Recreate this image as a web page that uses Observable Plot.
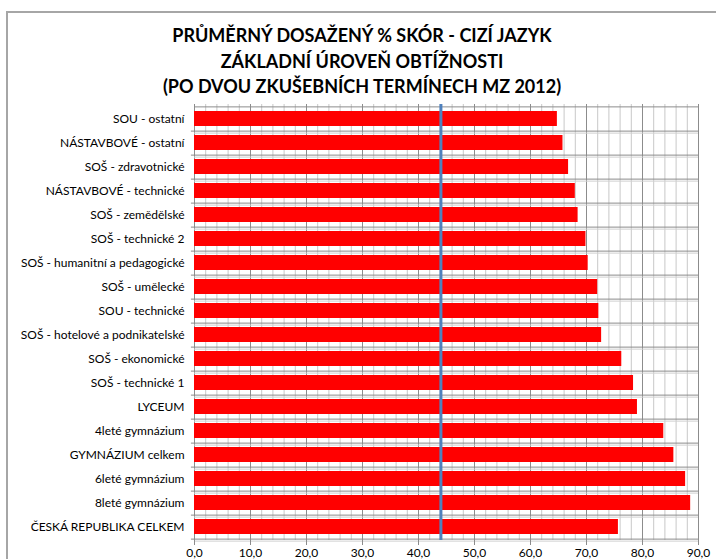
<!DOCTYPE html>
<html>
<head>
<meta charset="utf-8">
<script src="https://cdn.jsdelivr.net/npm/d3@7"></script>
<script src="https://cdn.jsdelivr.net/npm/@observablehq/plot@0.6"></script>
<style>
  html, body { margin: 0; padding: 0; background: #fff; width: 716px; height: 559px; overflow: hidden; }
  #frame { position: absolute; left: 6px; top: 11px; width: 760px; height: 600px;
           border-left: 2px solid #a6a6a6; border-top: 2px solid #a6a6a6; }
  #title { position: absolute; left: 6px; top: 23px; width: 712px; text-align: center;
           font-family: Lato, "Open Sans", sans-serif; font-weight: bold; font-size: 18px;
           line-height: 25.5px; color: #000; }
  #chart { position: absolute; left: 0; top: 95px; }
</style>
</head>
<body>
<div id="frame"></div>
<div id="title">PRŮMĚRNÝ DOSAŽENÝ % SKÓR - CIZÍ JAZYK<br>ZÁKLADNÍ ÚROVEŇ OBTÍŽNOSTI<br>(PO DVOU ZKUŠEBNÍCH TERMÍNECH MZ 2012)</div>
<div id="chart"></div>
<script>
const categories = [
  "SOU - ostatní",
  "NÁSTAVBOVÉ - ostatní",
  "SOŠ - zdravotnické",
  "NÁSTAVBOVÉ - technické",
  "SOŠ - zemědělské",
  "SOŠ - technické 2",
  "SOŠ - humanitní a pedagogické",
  "SOŠ - umělecké",
  "SOU - technické",
  "SOŠ - hotelové a podnikatelské",
  "SOŠ - ekonomické",
  "SOŠ - technické 1",
  "LYCEUM",
  "4leté gymnázium",
  "GYMNÁZIUM celkem",
  "6leté gymnázium",
  "8leté gymnázium",
  "ČESKÁ REPUBLIKA CELKEM"
];
const values = [64.8, 65.8, 66.8, 68.0, 68.5, 69.9, 70.3, 72.0, 72.2, 72.7, 76.3, 78.4, 79.1, 83.8, 85.6, 87.7, 88.6, 75.7];
const threshold = 44;
const xTicks = [0, 10, 20, 30, 40, 50, 60, 70, 80, 90];
const minorGrid = d3.range(0, 91, 2).filter(d => d % 10 !== 0);

const data = categories.map((c, i) => ({category: c, value: values[i]}));

const W = 716, H = 464, mTop = 9, mBottom = 19, mLeft = 194, mRight = 18;
const step = (H - mTop - mBottom) / categories.length;
const fmt = d => d.toFixed(1).replace(".", ",");

const chart = Plot.plot({
  width: W,
  height: H,
  marginTop: mTop,
  marginBottom: mBottom,
  marginLeft: mLeft,
  marginRight: mRight,
  style: {fontFamily: "Lato, 'Open Sans', sans-serif", fontSize: "12px", color: "#000", background: "transparent"},
  x: {domain: [0, 90], ticks: xTicks, tickFormat: fmt, label: null},
  y: {domain: categories, paddingInner: 0.38, paddingOuter: 0.19, label: null},
  marks: [
    Plot.ruleX(minorGrid, {stroke: "#c8c8c8", strokeWidth: 1}),
    Plot.ruleX(xTicks, {stroke: "#8c8c8c", strokeWidth: 1}),
    Plot.ruleY(categories, {y: d => d, dy: step / 2 + 2, stroke: "#d0d0d0", strokeWidth: 1}),
    Plot.ruleY(categories, {y: d => d, dy: step / 2, stroke: "#8c8c8c", strokeWidth: 1}),
    Plot.ruleY(categories, {y: d => d, dy: step / 2, x1: -0.55, x2: 0, stroke: "#8c8c8c", strokeWidth: 1, clip: false}),
    Plot.ruleY(categories.slice(0, 1), {y: d => d, dy: -step / 2, stroke: "#8c8c8c", strokeWidth: 1}),
    Plot.barX(data, {y: "category", x: "value", fill: "#ff0000"}),
    Plot.ruleX([threshold], {stroke: "#4f81bd", strokeWidth: 3}),
    Plot.axisX({ticks: xTicks, tickFormat: fmt, tickSize: 5, tickPadding: 3, stroke: "#8c8c8c", fill: "#000", fontSize: 12}),
    Plot.axisY({tickSize: 0, tickPadding: 10, fill: "#000", fontSize: 12})
  ]
});
document.getElementById("chart").appendChild(chart);
</script>
</body>
</html>
